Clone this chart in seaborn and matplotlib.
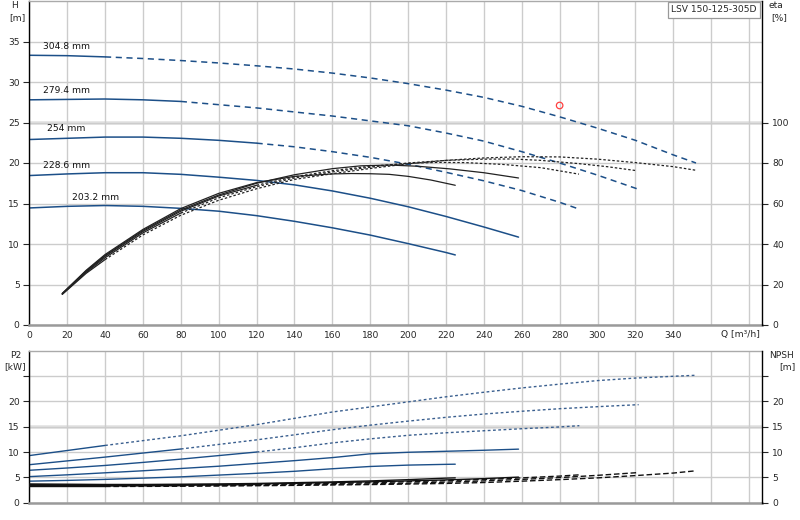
import numpy as np
import pandas as pd
import matplotlib
matplotlib.use("Agg")
import matplotlib.pyplot as plt
import seaborn as sns

# ---------------- data ----------------
diameters = ["304.8 mm", "279.4 mm", "254 mm", "228.6 mm", "203.2 mm"]

q_304 = [0, 20, 40, 60, 80, 100, 120, 140, 160, 180, 200, 220, 240, 260, 280, 300, 320, 340, 352]
q_279 = [0, 20, 40, 60, 80, 100, 120, 140, 160, 180, 200, 220, 240, 260, 280, 300, 321.7]
q_254 = [0, 20, 40, 60, 80, 100, 120, 140, 160, 180, 200, 220, 240, 260, 280, 290.4]
q_228 = [0, 20, 40, 60, 80, 100, 120, 140, 160, 180, 200, 220, 240, 258.3]
q_203 = [0, 20, 40, 60, 80, 100, 120, 140, 160, 180, 200, 220, 224.9]

h_304 = [33.3, 33.25, 33.1, 32.9, 32.65, 32.35, 32.0, 31.6, 31.1, 30.5, 29.8, 29.0, 28.1, 27.0, 25.7, 24.3, 22.8, 21.0, 20.0]
h_279 = [27.8, 27.85, 27.9, 27.8, 27.6, 27.2, 26.8, 26.3, 25.8, 25.2, 24.6, 23.7, 22.7, 21.4, 20.0, 18.5, 16.75]
h_254 = [22.9, 23.05, 23.2, 23.2, 23.05, 22.8, 22.45, 22.0, 21.4, 20.7, 19.85, 18.85, 17.8, 16.6, 15.15, 14.3]
h_228 = [18.45, 18.65, 18.8, 18.8, 18.6, 18.25, 17.85, 17.3, 16.55, 15.65, 14.6, 13.4, 12.1, 10.85]
h_203 = [14.45, 14.65, 14.75, 14.65, 14.4, 14.05, 13.5, 12.8, 12.0, 11.1, 10.05, 8.95, 8.65]

qe_304 = [17.4, 30, 40, 60, 80, 100, 120, 140, 160, 180, 200, 220, 240, 260, 280, 300, 320, 340, 352]
qe_279 = [17.4, 30, 40, 60, 80, 100, 120, 140, 160, 180, 200, 220, 240, 255, 270, 290, 305, 320.8]
qe_254 = [17.4, 30, 40, 60, 80, 100, 120, 140, 160, 180, 200, 215, 230, 250, 270, 290.2]
qe_228 = [17.4, 30, 40, 60, 80, 100, 120, 140, 160, 175, 190, 205, 222, 240, 258.3]
qe_203 = [17.4, 30, 40, 60, 80, 100, 120, 140, 160, 170, 180, 190, 200, 212, 224.9]

eta_304 = [15.1, 25.5, 32.3, 44.5, 54.2, 61.6, 67.3, 71.9, 74.7, 77.3, 79.6, 81.3, 82.5, 83.1, 83.0, 81.9, 80.2, 78.2, 76.4]
eta_279 = [15.3, 26.0, 33.2, 45.5, 55.3, 62.8, 68.3, 72.6, 75.6, 77.9, 80.0, 81.3, 81.9, 82.0, 81.3, 79.7, 78.2, 76.2]
eta_254 = [15.4, 26.4, 33.9, 46.2, 56.2, 63.7, 69.0, 73.2, 76.2, 78.4, 79.8, 80.3, 80.2, 79.3, 77.7, 74.5]
eta_228 = [15.5, 26.7, 34.3, 46.7, 56.8, 64.2, 70.0, 74.2, 77.2, 78.6, 79.0, 78.4, 77.1, 75.2, 72.6]
eta_203 = [15.6, 27.0, 34.8, 47.2, 57.5, 65.0, 70.3, 73.4, 74.6, 74.8, 74.7, 74.4, 73.4, 71.6, 69.0]

p2_304 = [9.3, 10.3, 11.3, 12.25, 13.2, 14.3, 15.4, 16.65, 17.9, 18.9, 19.9, 20.9, 21.8, 22.65, 23.4, 24.1, 24.6, 24.95, 25.15]
p2_279 = [7.5, 8.25, 9.0, 9.8, 10.6, 11.5, 12.4, 13.4, 14.4, 15.3, 16.1, 16.85, 17.5, 18.05, 18.55, 18.95, 19.35]
p2_254 = [6.4, 6.85, 7.35, 7.95, 8.6, 9.3, 10.0, 10.85, 11.8, 12.6, 13.3, 13.8, 14.2, 14.6, 14.95, 15.2]
p2_228 = [5.15, 5.5, 5.9, 6.3, 6.75, 7.2, 7.75, 8.3, 8.9, 9.65, 9.95, 10.15, 10.35, 10.57]
p2_203 = [4.25, 4.4, 4.6, 4.85, 5.1, 5.45, 5.8, 6.2, 6.7, 7.15, 7.42, 7.57, 7.6]

npsh_304 = [3.2, 3.2, 3.2, 3.22, 3.25, 3.3, 3.35, 3.42, 3.5, 3.58, 3.68, 3.8, 3.98, 4.25, 4.55, 4.9, 5.35, 5.85, 6.3]
npsh_279 = [3.3, 3.3, 3.3, 3.32, 3.35, 3.38, 3.45, 3.52, 3.62, 3.72, 3.85, 4.05, 4.3, 4.6, 4.95, 5.4, 5.95]
npsh_254 = [3.4, 3.4, 3.4, 3.42, 3.45, 3.5, 3.58, 3.68, 3.8, 3.95, 4.15, 4.35, 4.6, 4.9, 5.25, 5.5]
npsh_228 = [3.55, 3.52, 3.5, 3.5, 3.55, 3.6, 3.7, 3.82, 3.97, 4.12, 4.3, 4.5, 4.75, 5.05]
npsh_203 = [3.7, 3.65, 3.6, 3.6, 3.65, 3.7, 3.8, 3.95, 4.1, 4.3, 4.55, 4.85, 4.9]

# label anchor positions (Q, H) and break index (end of solid part)
label_q = [7.2, 7.2, 9.3, 7.2, 22.5]
label_h = [34.4, 29.0, 24.2, 19.75, 15.8]
break_idx = [2, 4, 6, None, None]
eta_break_idx = [2, 4, 6, None, None]

duty_q = [280]
duty_h = [27.1]

title_text = "LSV 150-125-305D"

# ---------------- style ----------------
sns.set_style("white")
plt.rcParams['font.family'] = ['DejaVu Sans']
plt.rcParams['font.size'] = 6.6

BLUE = "#1c4f88"
GRID = "#cccccc"

fig = plt.figure(figsize=(8, 5.2), dpi=100)
W, Hpx = 800.0, 520.0
x0, x1 = 29.3, 762.3
ax1 = fig.add_axes([x0 / W, 1 - 325 / Hpx, (x1 - x0) / W, 324 / Hpx])
ax2 = fig.add_axes([x0 / W, 1 - 502.7 / Hpx, (x1 - x0) / W, 152 / Hpx])
ax1r = ax1.twinx()
ax2r = ax2.twinx()

qs = [q_304, q_279, q_254, q_228, q_203]
hs = [h_304, h_279, h_254, h_228, h_203]
qes = [qe_304, qe_279, qe_254, qe_228, qe_203]
etas = [eta_304, eta_279, eta_254, eta_228, eta_203]
p2s = [p2_304, p2_279, p2_254, p2_228, p2_203]
npshs = [npsh_304, npsh_279, npsh_254, npsh_228, npsh_203]


def draw(ax, q, v, brk, color, tail_ls, lw=1.0, tail_color=None):
    q = np.asarray(q, float)
    v = np.asarray(v, float)
    if brk is None:
        sns.lineplot(x=q, y=v, ax=ax, color=color, lw=lw, estimator=None,
                     sort=False, legend=False)
        return
    sns.lineplot(x=q[:brk + 1], y=v[:brk + 1], ax=ax, color=color, lw=lw,
                 estimator=None, sort=False, legend=False)
    sns.lineplot(x=q[brk:], y=v[brk:], ax=ax, color=tail_color or color, lw=lw,
                 linestyle=tail_ls, estimator=None, sort=False, legend=False)


for i in range(5):
    draw(ax1, qs[i], hs[i], break_idx[i], BLUE, (0, (4, 3)), lw=1.1)
    draw(ax1r, qes[i], etas[i], eta_break_idx[i], "#222222", (0, (2, 1.6)), lw=0.9)
    draw(ax2, qs[i], p2s[i], break_idx[i], BLUE, (0, (2, 1.8)), lw=1.0, tail_color="#3a5f8f")
    draw(ax2r, qs[i], npshs[i], break_idx[i], "#111111", (0, (4, 2)), lw=1.0)
    ax1.text(label_q[i], label_h[i], diameters[i], ha="left", va="center",
             fontsize=6.6, color="#111111")

sns.scatterplot(x=duty_q, y=duty_h, ax=ax1, marker="o", s=22, facecolor="none",
                edgecolor="#ff4040", linewidth=0.9, legend=False, zorder=5)

# ---------------- axes setup ----------------
xticks = np.arange(0, 381, 20)
xlabels = [str(v) if v <= 340 else "" for v in xticks]
for ax in (ax1, ax2):
    ax.set_xlim(0, 387)
    ax.set_xticks(xticks)
    ax.grid(True, color=GRID, lw=1.0)
    ax.set_axisbelow(True)
    ax.set_xlabel("")
    ax.set_ylabel("")
    ax.spines["top"].set_color("#aaaaaa")
    ax.spines["top"].set_linewidth(1.0)
    ax.spines["bottom"].set_color("#9a9a9a")
    ax.spines["bottom"].set_linewidth(1.8)
    ax.spines["left"].set_color("#000000")
    ax.spines["left"].set_linewidth(1.0)
    ax.spines["right"].set_visible(False)

ax1.set_xticklabels(xlabels)
ax2.set_xticklabels([])
ax1.tick_params(axis="x", length=0, pad=4, labelsize=6.6)
ax2.tick_params(axis="x", length=0)

ax1.set_ylim(0, 40)
ax1.set_yticks(np.arange(0, 36, 5))
ax1.tick_params(axis="y", direction="out", length=4, width=0.8, pad=3, labelsize=6.6, left=True)
ax1.axhline(25, color="#e2e2e2", lw=2.6, zorder=0)

ax1r.set_ylim(0, 160)
ax1r.set_yticks(np.arange(0, 101, 20))
ax1r.tick_params(axis="y", direction="out", length=4, width=0.8, pad=3, labelsize=6.6, right=True)
ax1r.set_ylabel("")
for s in ("top", "left", "bottom"):
    ax1r.spines[s].set_visible(False)
ax1r.spines["right"].set_color("#000000")
ax1r.spines["right"].set_linewidth(1.0)
ax1r.grid(False)

ax2.set_ylim(0, 30)
ax2.set_yticks(np.arange(0, 26, 5))
ax2.set_yticklabels(["0", "5", "10", "15", "20", ""])
ax2.tick_params(axis="y", direction="out", length=4, width=0.8, pad=3, labelsize=6.6, left=True)
ax2.axhline(15, color="#e2e2e2", lw=2.6, zorder=0)

ax2r.set_ylim(0, 30)
ax2r.set_yticks(np.arange(0, 26, 5))
ax2r.set_yticklabels(["0", "5", "10", "15", "20", ""])
ax2r.tick_params(axis="y", direction="out", length=4, width=0.8, pad=3, labelsize=6.6, right=True)
ax2r.set_ylabel("")
for s in ("top", "left", "bottom"):
    ax2r.spines[s].set_visible(False)
ax2r.spines["right"].set_color("#000000")
ax2r.spines["right"].set_linewidth(1.0)
ax2r.grid(False)

# ---------------- axis titles ----------------
def ftext(px, py, s, **kw):
    fig.text(px / W, 1 - py / Hpx, s, ha="center", va="center", fontsize=6.6, **kw)

ftext(15, 6, "H")
ftext(17, 18, "[m]")
ftext(776, 6, "eta")
ftext(779, 18, "[%]")
ftext(740, 335, "Q [m\u00b3/h]")
ftext(16, 356, "P2")
ftext(15, 367, "[kW]")
ftext(781, 356, "NPSH")
ftext(787, 367, "[m]")

fig.text(714 / W, 1 - 10 / Hpx, title_text, ha="center", va="center", fontsize=6.6,
         bbox=dict(boxstyle="square,pad=0.35", facecolor="white", edgecolor="#999999", lw=0.9))

fig.savefig("out.png", dpi=100)
